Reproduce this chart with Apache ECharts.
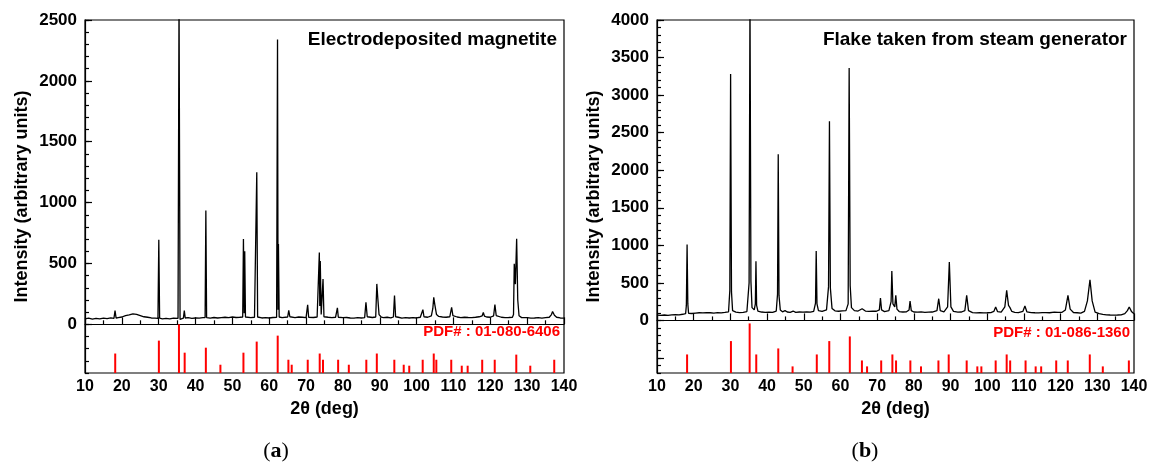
<!DOCTYPE html>
<html>
<head>
<meta charset="utf-8">
<script src="https://cdn.jsdelivr.net/npm/echarts@6/dist/echarts.min.js"></script>
<style>
  html, body { margin: 0; padding: 0; background: #fff; }
  #chart { width: 1154px; height: 464px; }
</style>
</head>
<body>
<div id="chart"></div>
<script>
// (a) electrodeposited magnetite: measured scan [2theta, counts]
const scanA = [
  [10, 45], [11, 50], [12, 42], [13, 48], [14, 44], [15, 50], [16, 46], [17, 52], [17.85, 48], [18.15, 112], [18.45, 50],
  [19, 55], [20, 60], [21, 72], [22, 78], [23, 85], [24, 82], [25, 72], [26, 62], [27, 58], [28, 52], [29, 50],
  [29.8, 48], [30.03, 695], [30.25, 50], [31, 45], [32, 48], [33, 44], [34, 50], [35.25, 48], [35.52, 2700], [35.8, 40],
  [36.2, 38], [36.7, 50], [36.95, 112], [37.2, 52], [38, 55], [39, 48], [40, 52], [41, 50], [42, 55], [42.6, 55],
  [42.8, 935], [43.0, 55], [44, 50], [45, 56], [46, 52], [47, 55], [48, 58], [49, 55], [50, 60], [51, 56], [52, 58],
  [52.8, 60], [53.0, 700], [53.2, 90], [53.35, 600], [53.55, 60], [54, 58], [55, 55], [56, 58], [56.4, 58], [56.62, 1250],
  [56.85, 60], [58, 52], [59, 55], [60, 52], [61, 56], [62.0, 58], [62.25, 2340], [62.4, 120], [62.5, 660], [62.7, 60],
  [63.5, 55], [64, 58], [65.0, 60], [65.3, 115], [65.6, 62], [67, 55], [68, 60], [69, 58], [70, 55], [70.2, 60],
  [70.43, 160], [70.7, 58], [72, 56], [73, 60], [73.4, 62], [73.6, 590], [73.72, 150], [73.85, 520], [74.1, 80],
  [74.35, 70], [74.6, 372], [74.85, 62], [76, 58], [77, 55], [78, 58], [78.25, 60], [78.5, 135], [78.75, 58], [80, 55],
  [81, 56], [82, 52], [83, 50], [84, 55], [85, 52], [85.9, 55], [86.25, 180], [86.6, 62], [88, 56], [88.9, 60],
  [89.2, 332], [89.45, 220], [89.8, 80], [90.4, 60], [91, 55], [92, 58], [93, 52], [93.7, 60], [94.0, 236], [94.3, 62],
  [95, 58], [96, 50], [97, 55], [98, 52], [99, 55], [100, 52], [101, 58], [101.4, 62], [101.7, 120], [102, 62],
  [103, 58], [104, 70], [104.4, 130], [104.65, 222], [104.95, 160], [105.4, 80], [106, 65], [107, 60], [108, 58],
  [109, 62], [109.2, 70], [109.5, 140], [109.85, 72], [111, 60], [112, 55], [113, 58], [114, 56], [115, 55], [116, 58],
  [117, 62], [117.8, 70], [118.1, 97], [118.4, 68], [119, 60], [120, 58], [120.9, 70], [121.25, 162], [121.6, 72],
  [122, 62], [123, 58], [124, 55], [125, 56], [126, 58], [126.3, 80], [126.5, 497], [126.8, 330], [127.15, 703],
  [127.45, 200], [127.8, 70], [128.5, 55], [129, 52], [130, 55], [131, 50], [132, 52], [133, 55], [134, 50], [135, 55],
  [136, 58], [136.6, 80], [136.9, 105], [137.4, 75], [138, 58], [139, 52], [140, 50]
];
// (a) reference sticks PDF# 01-080-6406: [2theta, top of stick]
const sticksA = [
  [18.2, -240], [30.05, -134], [35.5, 0], [37.05, -233], [42.8, -192], [46.75, -332], [53.0, -233], [56.6, -142],
  [62.3, -93], [65.2, -291], [66.1, -332], [70.45, -291], [73.7, -240], [74.6, -291], [78.7, -291], [81.6, -332],
  [86.35, -291], [89.2, -240], [93.95, -291], [96.5, -332], [98.0, -340], [101.65, -291], [104.65, -240],
  [105.35, -291], [109.4, -291], [112.25, -340], [113.85, -340], [117.8, -291], [121.2, -291], [127.05, -249],
  [130.85, -340], [137.35, -291]
];

// (b) flake from steam generator: measured scan [2theta, counts]
const scanB = [
  [10, 70], [11, 66], [12, 72], [13, 68], [14, 74], [15, 78], [16, 75], [17, 82], [17.8, 90], [18.0, 200], [18.2, 1010],
  [18.4, 220], [18.6, 95], [19.5, 92], [20.5, 98], [21.5, 102], [22.5, 100], [23.5, 105], [24.5, 102], [25.5, 98],
  [26.5, 104], [27.5, 100], [28.5, 106], [29.5, 115], [29.85, 400], [30.06, 3280], [30.3, 380], [30.6, 130], [31.5, 110],
  [32.5, 104], [33.5, 108], [34.5, 118], [35.1, 500], [35.34, 4300], [35.6, 520], [35.9, 170], [36.5, 140], [36.8, 220],
  [36.97, 787], [37.15, 200], [37.5, 125], [38.5, 112], [39.5, 108], [40.5, 110], [41.5, 106], [42.5, 125], [42.85, 350],
  [43.04, 2213], [43.25, 330], [43.6, 140], [44.2, 115], [44.9, 130], [45.5, 112], [46.3, 108], [47.1, 125], [47.8, 108],
  [48.8, 112], [49.8, 110], [50.8, 114], [51.8, 110], [52.7, 120], [53.2, 230], [53.39, 924], [53.6, 220], [54.0, 130],
  [55, 120], [56.2, 140], [56.75, 450], [57.0, 2653], [57.25, 430], [57.7, 160], [58.5, 128], [59.5, 122], [60.5, 126],
  [61.5, 130], [62.1, 220], [62.37, 3360], [62.65, 460], [63.0, 170], [63.8, 130], [64.8, 125], [65.9, 156], [66.8, 125],
  [67.8, 120], [68.8, 124], [69.8, 122], [70.6, 140], [70.9, 298], [71.2, 140], [72, 118], [73.2, 130], [73.8, 250],
  [74.0, 658], [74.3, 220], [74.8, 180], [75.08, 333], [75.4, 150], [76, 118], [77, 112], [78, 115], [78.7, 140],
  [78.97, 258], [79.3, 130], [80, 112], [81, 110], [82, 114], [83, 108], [84, 110], [85, 112], [86.3, 130], [86.78, 289],
  [87.2, 130], [88.2, 115], [89.2, 180], [89.67, 778], [90.1, 180], [90.8, 120], [92, 110], [93, 112], [93.9, 130],
  [94.4, 333], [94.9, 130], [96, 105], [97, 100], [98, 104], [99, 100], [100, 102], [101, 105], [101.8, 120],
  [102.3, 178], [102.8, 118], [103.8, 110], [104.8, 180], [105.3, 400], [105.8, 200], [106.2, 170], [106.7, 120],
  [107.5, 108], [108.5, 104], [109.7, 120], [110.27, 191], [110.8, 115], [112, 105], [113, 102], [114, 100], [115, 103],
  [116, 104], [117, 102], [118.3, 110], [118.8, 124], [119.3, 108], [120.3, 106], [121.3, 140], [122, 333], [122.6, 150],
  [123.5, 105], [124.5, 102], [125.5, 98], [126.5, 120], [127.3, 260], [128.0, 542], [128.6, 260], [129.4, 110],
  [130.5, 90], [131.5, 80], [132.5, 75], [133.5, 72], [134.5, 70], [135.5, 72], [136.5, 75], [137.5, 90], [138.2, 130],
  [138.7, 178], [139.3, 120], [140, 90]
];
// (b) reference sticks PDF# 01-086-1360
const sticksB = [
  [18.2, -453], [30.15, -275], [35.25, -40], [37.05, -453], [43.05, -373], [46.95, -612], [53.55, -453], [56.95, -275],
  [62.55, -213], [65.85, -533], [67.25, -612], [71.1, -533], [74.15, -453], [75.15, -533], [79.05, -533], [81.95, -612],
  [86.7, -533], [89.5, -453], [94.4, -533], [97.3, -612], [98.4, -612], [102.3, -533], [105.3, -453], [106.25, -533],
  [110.45, -533], [113.2, -612], [114.7, -612], [118.8, -533], [121.95, -533], [127.95, -453], [131.5, -612],
  [138.6, -533]
];

const xTicks = [10, 140];
const yLabelsA = [0, 500, 1000, 1500, 2000, 2500];
const yLabelsB = [0, 500, 1000, 1500, 2000, 2500, 3000, 3500, 4000];
const yRangeA = [-400, 2500];
const yRangeB = [-700, 4000];

const SANS = '"Liberation Sans", Arial, sans-serif';
const black = '#000';

function xAxisFor(grid) {
  return {
    type: 'value', gridIndex: grid, min: xTicks[0], max: xTicks[1], interval: 10,
    name: '2θ (deg)', nameLocation: 'middle', nameGap: 26,
    nameTextStyle: { fontFamily: SANS, fontWeight: 'bold', fontSize: 18, color: black },
    axisLine: { lineStyle: { color: black, width: 1.2 } },
    axisTick: { inside: true, length: 7, lineStyle: { color: black, width: 1.2 } },
    minorTick: { show: true, splitNumber: 2, length: 4, lineStyle: { color: black, width: 1.2 } },
    axisLabel: { fontFamily: SANS, fontWeight: 'bold', fontSize: 16, color: black, margin: 6, formatter: v => String(v) },
    splitLine: { show: false }
  };
}

function yAxesFor(grid, range, labels) {
  const major = labels.slice();
  if (range[0] <= -500) major.unshift(-500);
  return [{
    type: 'value', gridIndex: grid, position: 'left', min: range[0], max: range[1],
    name: 'Intensity (arbitrary units)', nameLocation: 'middle', nameGap: 54,
    nameTextStyle: { fontFamily: SANS, fontWeight: 'bold', fontSize: 18, color: black },
    axisLine: { show: true, lineStyle: { color: black, width: 1.2 } },
    axisTick: { show: true, inside: true, length: 7, customValues: major, lineStyle: { color: black, width: 1.2 } },
    axisLabel: { customValues: labels, fontFamily: SANS, fontWeight: 'bold', fontSize: 17, color: black, margin: 8,
      formatter: v => String(v) },
    splitLine: { show: false }
  }, {
    type: 'value', gridIndex: grid, position: 'left', min: range[0], max: range[1], interval: 100,
    axisLine: { show: false },
    axisTick: { show: true, inside: true, length: 4, lineStyle: { color: black, width: 1.2 } },
    axisLabel: { show: false },
    splitLine: { show: false }
  }];
}

function stickRenderer(base) {
  return function (params, api) {
    const x = api.value(0);
    const p0 = api.coord([x, base]);
    const p1 = api.coord([x, api.value(1)]);
    return {
      type: 'line',
      shape: { x1: p0[0], y1: p0[1], x2: p1[0], y2: p1[1] },
      style: { stroke: '#ff0000', lineWidth: 2 }
    };
  };
}

function label(x, y, text, font, color, align) {
  return {
    type: 'text', x: x, y: y, z: 10,
    style: {
      text: text, font: font, fill: color,
      align: align, verticalAlign: 'middle',
      textAlign: align, textVerticalAlign: 'middle'
    }
  };
}

const chart = echarts.init(document.getElementById('chart'), null, { renderer: 'canvas' });
chart.setOption({
  animation: false,
  backgroundColor: '#fff',
  grid: [
    { left: 85, top: 20, width: 479, height: 353, show: true, borderColor: black, borderWidth: 1.2, backgroundColor: 'transparent' },
    { left: 657, top: 20, width: 477, height: 353, show: true, borderColor: black, borderWidth: 1.2, backgroundColor: 'transparent' }
  ],
  xAxis: [xAxisFor(0), xAxisFor(1)],
  yAxis: yAxesFor(0, yRangeA, yLabelsA).concat(yAxesFor(1, yRangeB, yLabelsB)),
  series: [
    { type: 'custom', xAxisIndex: 0, yAxisIndex: 0, data: sticksA, renderItem: stickRenderer(yRangeA[0]), z: 1 },
    { type: 'line', xAxisIndex: 0, yAxisIndex: 0, data: scanA, showSymbol: false, clip: true,
      lineStyle: { color: black, width: 1.3 }, z: 2 },
    { type: 'custom', xAxisIndex: 1, yAxisIndex: 2, data: sticksB, renderItem: stickRenderer(yRangeB[0]), z: 1 },
    { type: 'line', xAxisIndex: 1, yAxisIndex: 2, data: scanB, showSymbol: false, clip: true,
      lineStyle: { color: black, width: 1.3 }, z: 2 }
  ],
  graphic: [
    label(557, 40, 'Electrodeposited magnetite', 'bold 19px ' + SANS, black, 'right'),
    label(1127, 40, 'Flake taken from steam generator', 'bold 19px ' + SANS, black, 'right'),
    label(560, 332, 'PDF# : 01-080-6406', 'bold 15px ' + SANS, '#ff0000', 'right'),
    label(1130, 333, 'PDF# : 01-086-1360', 'bold 15px ' + SANS, '#ff0000', 'right'),
    {
      type: 'text', x: 276, y: 451, z: 10,
      style: { text: '({b|a})', font: '22px "Liberation Serif", serif', fill: black, align: 'center', verticalAlign: 'middle',
        textAlign: 'center', textVerticalAlign: 'middle', rich: { b: { font: 'bold 22px "Liberation Serif", serif' } } }
    },
    {
      type: 'text', x: 865, y: 451, z: 10,
      style: { text: '({b|b})', font: '22px "Liberation Serif", serif', fill: black, align: 'center', verticalAlign: 'middle',
        textAlign: 'center', textVerticalAlign: 'middle', rich: { b: { font: 'bold 22px "Liberation Serif", serif' } } }
    }
  ]
});
</script>
</body>
</html>
